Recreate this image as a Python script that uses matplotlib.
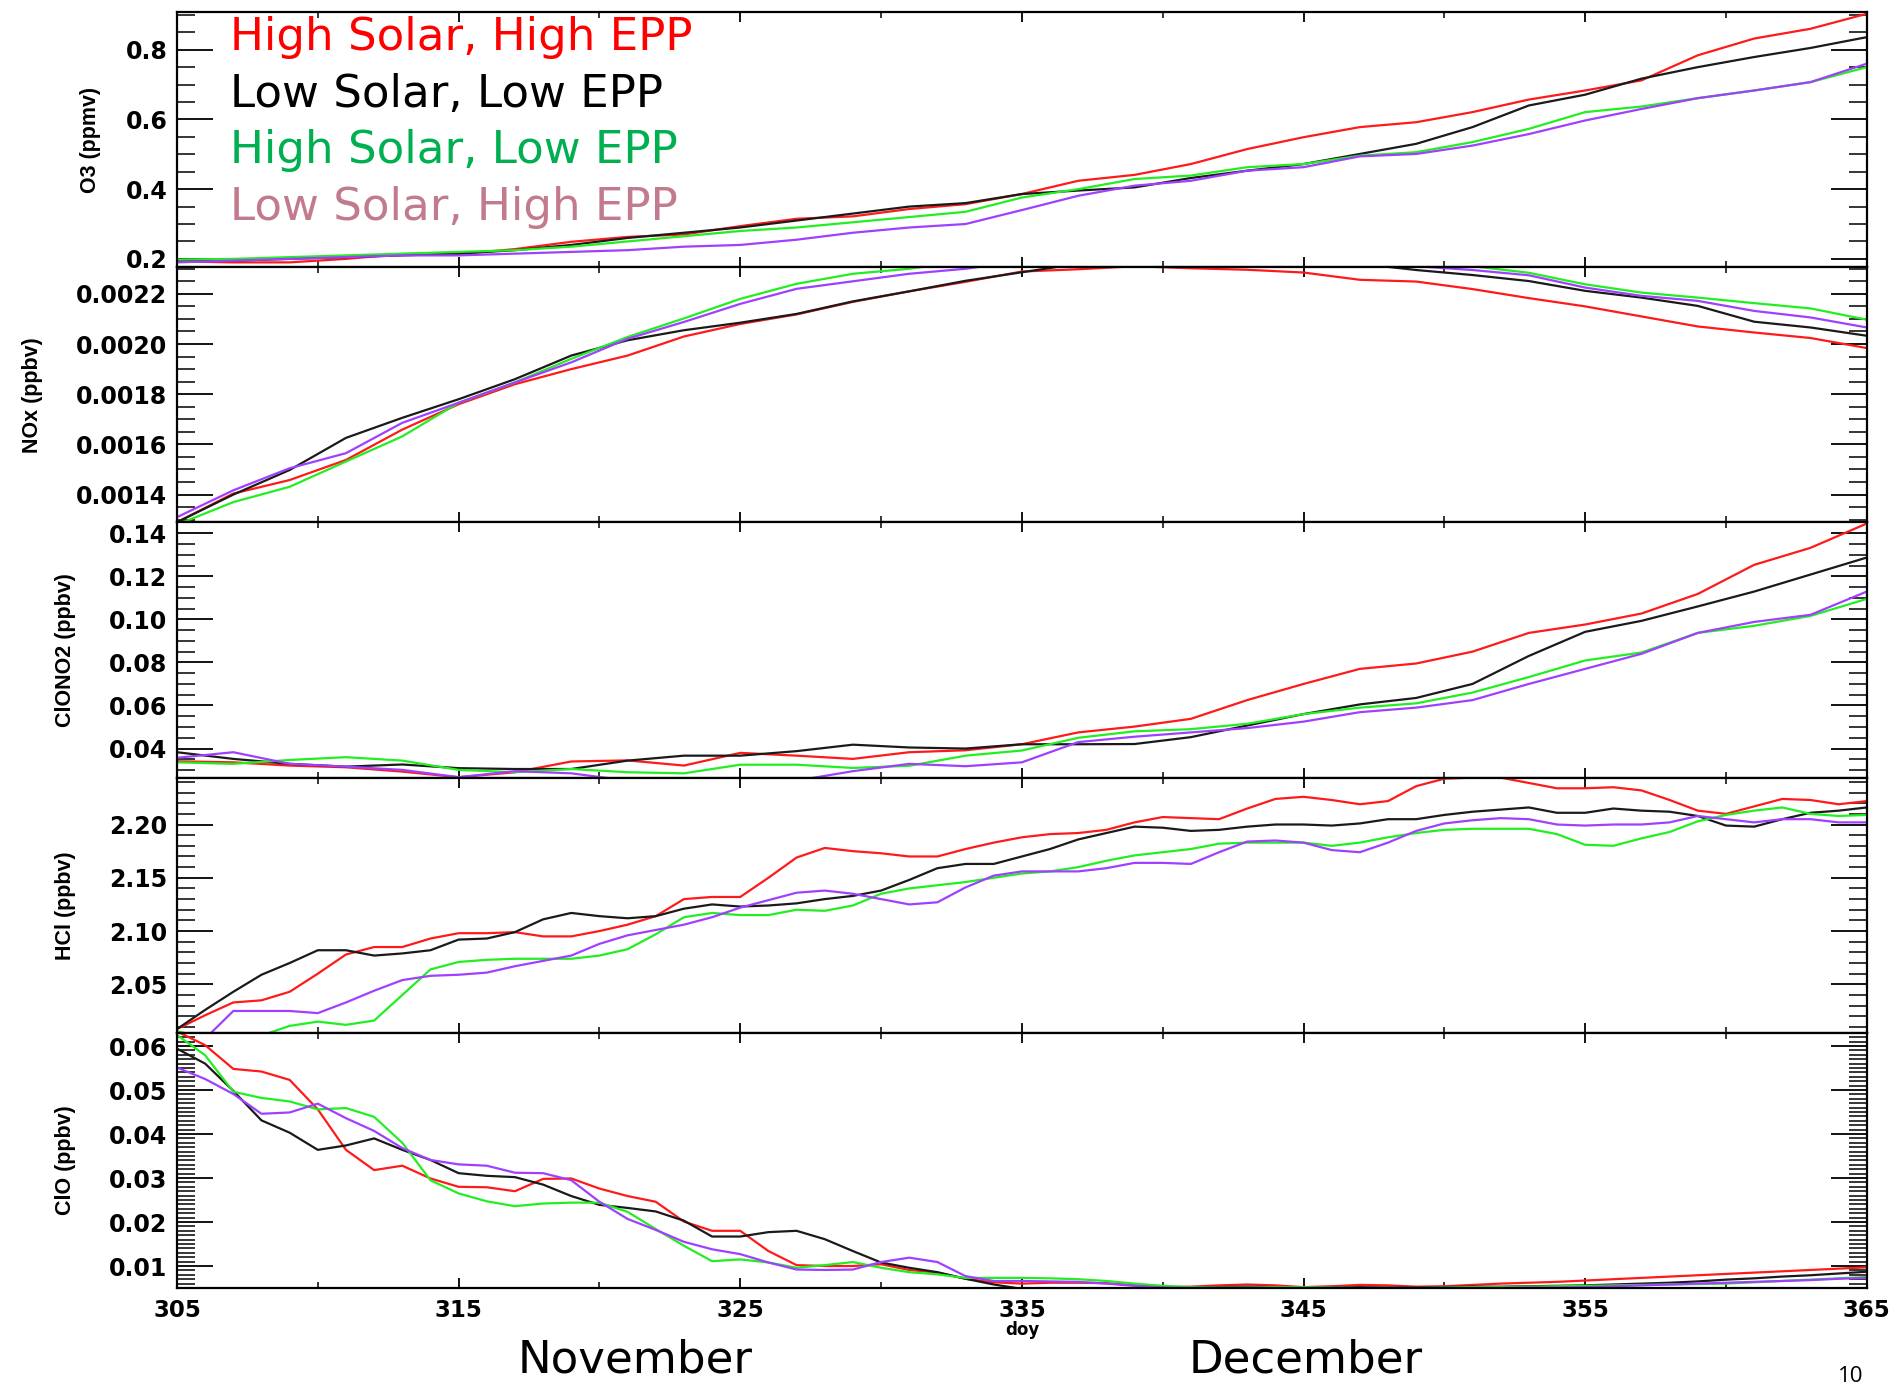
import matplotlib
matplotlib.use("Agg")
import matplotlib.pyplot as plt
import numpy as np
from matplotlib.ticker import MultipleLocator, FixedLocator, FormatStrFormatter

# day grids
days_daily = np.arange(305, 366)
days_2 = np.arange(305, 366, 2)

# O3 (ppmv), every 2 days
o3_hh = [0.193, 0.190, 0.190, 0.200, 0.214, 0.214, 0.228, 0.249, 0.263, 0.270, 0.294, 0.315, 0.322, 0.343, 0.357, 0.386,
         0.424, 0.441, 0.472, 0.515, 0.549, 0.578, 0.592, 0.621, 0.657, 0.683, 0.712, 0.784, 0.832, 0.860, 0.903]
o3_ll = [0.195, 0.195, 0.200, 0.205, 0.210, 0.215, 0.225, 0.240, 0.260, 0.275, 0.290, 0.310, 0.330, 0.350, 0.360, 0.386,
         0.396, 0.405, 0.432, 0.453, 0.472, 0.501, 0.530, 0.578, 0.640, 0.671, 0.717, 0.750, 0.779, 0.805, 0.836]
o3_hl = [0.198, 0.200, 0.205, 0.210, 0.215, 0.220, 0.225, 0.235, 0.250, 0.265, 0.280, 0.290, 0.305, 0.320, 0.335, 0.376,
         0.400, 0.429, 0.439, 0.463, 0.472, 0.496, 0.506, 0.535, 0.573, 0.621, 0.637, 0.661, 0.683, 0.707, 0.750]
o3_lh = [0.190, 0.195, 0.200, 0.205, 0.210, 0.210, 0.215, 0.220, 0.225, 0.235, 0.240, 0.255, 0.275, 0.290, 0.300, 0.340,
         0.381, 0.410, 0.424, 0.453, 0.463, 0.494, 0.501, 0.525, 0.558, 0.597, 0.630, 0.661, 0.683, 0.707, 0.760]

# NOx (ppbv), every 2 days
nox_hh = [0.00129, 0.001404, 0.001458, 0.001538, 0.001659, 0.00176, 0.00184, 0.0019, 0.001954, 0.00203, 0.00208,
          0.002118, 0.002168, 0.00221, 0.002248, 0.002289, 0.002298, 0.00231, 0.002302, 0.002296, 0.002285, 0.002256,
          0.002249, 0.002219, 0.002183, 0.00215, 0.00211, 0.00207, 0.002046, 0.002024, 0.001984]
nox_ll = [0.00129, 0.0014, 0.001498, 0.001626, 0.001706, 0.00178, 0.00186, 0.001954, 0.002015, 0.002055, 0.002085,
          0.00212, 0.00217, 0.00221, 0.002252, 0.002286, 0.00232, 0.00234, 0.00235, 0.00235, 0.00234, 0.00232,
          0.002295, 0.002275, 0.002251, 0.002212, 0.002185, 0.002152, 0.002089, 0.002066, 0.002033]
nox_hl = [0.00128, 0.00137, 0.001431, 0.001532, 0.001632, 0.001766, 0.001847, 0.001941, 0.002028, 0.002102, 0.00218,
          0.00224, 0.00228, 0.0023, 0.00233, 0.00236, 0.00238, 0.00239, 0.00239, 0.00238, 0.00236, 0.00234,
          0.00232, 0.00231, 0.002284, 0.002238, 0.002205, 0.002185, 0.002163, 0.002142, 0.002097]
nox_lh = [0.00131, 0.001417, 0.001505, 0.001565, 0.001686, 0.001766, 0.001847, 0.001927, 0.002021, 0.002088, 0.00216,
          0.00222, 0.00225, 0.00228, 0.0023, 0.00233, 0.00235, 0.00236, 0.00236, 0.00236, 0.00235, 0.00233,
          0.00231, 0.002295, 0.002274, 0.002225, 0.002192, 0.002172, 0.002132, 0.002106, 0.002066]

# ClONO2 (ppbv), every 2 days
clono2_hh = [0.0341, 0.0336, 0.0321, 0.0313, 0.0293, 0.0267, 0.0290, 0.0340, 0.0345, 0.0321, 0.0380, 0.0367, 0.0352,
             0.0383, 0.0392, 0.0420, 0.0475, 0.0502, 0.0538, 0.0625, 0.0700, 0.0770, 0.0795, 0.0850, 0.0937, 0.0976,
             0.1027, 0.1118, 0.1253, 0.1332, 0.1445]
clono2_ll = [0.0383, 0.0352, 0.0329, 0.0316, 0.0326, 0.0309, 0.0305, 0.0305, 0.0344, 0.0367, 0.0367, 0.0388, 0.0418,
             0.0405, 0.0400, 0.0420, 0.0420, 0.0421, 0.0453, 0.0507, 0.0560, 0.0605, 0.0635, 0.0700, 0.0830, 0.0942,
             0.0993, 0.1060, 0.1129, 0.1208, 0.1287]
clono2_hl = [0.0336, 0.0329, 0.0347, 0.0360, 0.0344, 0.0301, 0.0290, 0.0305, 0.0290, 0.0285, 0.0325, 0.0325, 0.0310,
             0.0320, 0.0367, 0.0391, 0.0450, 0.0480, 0.0490, 0.0515, 0.0560, 0.0590, 0.0610, 0.0660, 0.0732, 0.0809,
             0.0846, 0.0937, 0.0970, 0.1016, 0.1095]
clono2_lh = [0.0357, 0.0383, 0.0329, 0.0316, 0.0301, 0.0267, 0.0295, 0.0285, 0.0251, 0.0262, 0.0240, 0.0251, 0.0295,
             0.0329, 0.0318, 0.0336, 0.0430, 0.0455, 0.0475, 0.0495, 0.0525, 0.0569, 0.0590, 0.0625, 0.0700, 0.0770,
             0.0840, 0.0937, 0.0988, 0.1021, 0.1129]

# HCl (ppbv), daily
hcl_hh = [2.008, 2.021, 2.033, 2.035, 2.043, 2.060, 2.078, 2.085, 2.085, 2.093, 2.098, 2.098, 2.099, 2.095, 2.095, 2.100,
          2.106, 2.114, 2.130, 2.132, 2.132, 2.150, 2.169, 2.178, 2.175, 2.173, 2.170, 2.170, 2.177, 2.183, 2.188,
          2.191, 2.192, 2.195, 2.202, 2.207, 2.206, 2.205, 2.215, 2.224, 2.226, 2.223, 2.219, 2.222, 2.236, 2.243,
          2.244, 2.244, 2.239, 2.234, 2.234, 2.235, 2.232, 2.223, 2.213, 2.210, 2.217, 2.224, 2.223, 2.219, 2.222]
hcl_ll = [2.008, 2.026, 2.043, 2.059, 2.070, 2.082, 2.082, 2.077, 2.079, 2.082, 2.092, 2.093, 2.099, 2.111, 2.117, 2.114,
          2.112, 2.114, 2.121, 2.125, 2.123, 2.124, 2.126, 2.130, 2.133, 2.138, 2.148, 2.159, 2.163, 2.163, 2.170,
          2.177, 2.186, 2.192, 2.198, 2.197, 2.194, 2.195, 2.198, 2.200, 2.200, 2.199, 2.201, 2.205, 2.205, 2.209,
          2.212, 2.214, 2.216, 2.211, 2.211, 2.215, 2.213, 2.212, 2.208, 2.199, 2.198, 2.205, 2.211, 2.213, 2.216]
hcl_hl = [2.006, 2.000, 1.998, 2.002, 2.011, 2.015, 2.012, 2.016, 2.040, 2.064, 2.071, 2.073, 2.074, 2.074, 2.074, 2.077,
          2.083, 2.097, 2.113, 2.117, 2.115, 2.115, 2.120, 2.119, 2.124, 2.135, 2.140, 2.143, 2.146, 2.150, 2.154,
          2.156, 2.160, 2.166, 2.171, 2.174, 2.177, 2.182, 2.183, 2.183, 2.183, 2.180, 2.183, 2.188, 2.192, 2.195,
          2.196, 2.196, 2.196, 2.191, 2.181, 2.180, 2.187, 2.193, 2.203, 2.209, 2.213, 2.216, 2.210, 2.208, 2.209]
hcl_lh = [1.996, 1.999, 2.025, 2.025, 2.025, 2.023, 2.033, 2.044, 2.054, 2.058, 2.059, 2.061, 2.067, 2.072, 2.077, 2.088,
          2.096, 2.101, 2.106, 2.113, 2.122, 2.129, 2.136, 2.138, 2.135, 2.130, 2.125, 2.127, 2.141, 2.152, 2.156,
          2.156, 2.156, 2.159, 2.164, 2.164, 2.163, 2.174, 2.184, 2.185, 2.183, 2.176, 2.174, 2.183, 2.194, 2.201,
          2.204, 2.206, 2.205, 2.200, 2.199, 2.200, 2.200, 2.202, 2.208, 2.205, 2.202, 2.205, 2.205, 2.202, 2.202]

# ClO (ppbv), daily
clo_hh = [0.0633, 0.0602, 0.0548, 0.0542, 0.0523, 0.0456, 0.0364, 0.0318, 0.0328, 0.0299, 0.0280, 0.0279, 0.0270,
          0.0298, 0.0299, 0.0276, 0.0259, 0.0246, 0.0201, 0.0180, 0.0180, 0.0134, 0.0102, 0.0100, 0.0100, 0.0104,
          0.0091, 0.0085, 0.0071, 0.0063, 0.0060, 0.0062, 0.0062, 0.0061, 0.0056, 0.0052, 0.0053, 0.0056, 0.0058,
          0.0056, 0.0052, 0.0054, 0.0057, 0.0056, 0.0053, 0.0054, 0.0057, 0.0060, 0.0062, 0.0064, 0.0067, 0.0070,
          0.0073, 0.0076, 0.0079, 0.0082, 0.0085, 0.0088, 0.0091, 0.0094, 0.0097]
clo_ll = [0.0594, 0.0560, 0.0498, 0.0431, 0.0403, 0.0364, 0.0374, 0.0390, 0.0364, 0.0341, 0.0311, 0.0305, 0.0302,
          0.0285, 0.0259, 0.0239, 0.0232, 0.0224, 0.0203, 0.0167, 0.0167, 0.0177, 0.0180, 0.0161, 0.0134, 0.0108,
          0.0096, 0.0086, 0.0071, 0.0058, 0.0048, 0.0048, 0.0048, 0.0049, 0.0050, 0.0051, 0.0052, 0.0052, 0.0053,
          0.0052, 0.0051, 0.0051, 0.0052, 0.0051, 0.0051, 0.0052, 0.0053, 0.0053, 0.0054, 0.0055, 0.0056, 0.0058,
          0.0060, 0.0062, 0.0065, 0.0069, 0.0072, 0.0076, 0.0079, 0.0083, 0.0087]
clo_hl = [0.0625, 0.0579, 0.0496, 0.0482, 0.0474, 0.0456, 0.0459, 0.0439, 0.0380, 0.0295, 0.0265, 0.0247, 0.0236,
          0.0242, 0.0244, 0.0244, 0.0223, 0.0184, 0.0146, 0.0111, 0.0115, 0.0108, 0.0096, 0.0102, 0.0109, 0.0096,
          0.0086, 0.0081, 0.0073, 0.0073, 0.0073, 0.0072, 0.0070, 0.0066, 0.0060, 0.0055, 0.0052, 0.0051, 0.0051,
          0.0052, 0.0052, 0.0051, 0.0050, 0.0050, 0.0050, 0.0051, 0.0052, 0.0052, 0.0053, 0.0054, 0.0055, 0.0056,
          0.0057, 0.0058, 0.0059, 0.0060, 0.0063, 0.0066, 0.0069, 0.0072, 0.0075]
clo_lh = [0.0551, 0.0525, 0.0491, 0.0446, 0.0449, 0.0469, 0.0436, 0.0407, 0.0368, 0.0341, 0.0331, 0.0328, 0.0312,
          0.0311, 0.0295, 0.0246, 0.0207, 0.0182, 0.0155, 0.0138, 0.0127, 0.0108, 0.0092, 0.0091, 0.0092, 0.0109,
          0.0119, 0.0109, 0.0077, 0.0066, 0.0066, 0.0065, 0.0064, 0.0060, 0.0055, 0.0051, 0.0050, 0.0050, 0.0050,
          0.0050, 0.0050, 0.0050, 0.0050, 0.0050, 0.0050, 0.0050, 0.0050, 0.0050, 0.0051, 0.0051, 0.0052, 0.0054,
          0.0056, 0.0058, 0.0060, 0.0062, 0.0064, 0.0066, 0.0068, 0.0071, 0.0073]

scenario_labels = ["High Solar, High EPP", "Low Solar, Low EPP", "High Solar, Low EPP", "Low Solar, High EPP"]
label_colors = ["#ff0000", "#000000", "#00b050", "#c27b8c"]
line_colors = ["#ff1a1a", "#1a1a1a", "#22ee22", "#a040ff"]

# ylabel, days, series, ylim, major step, minor step, format, ylabel x (axes fraction)
panels = [
    ("O3 (ppmv)", days_2, [o3_hh, o3_ll, o3_hl, o3_lh], (0.176, 0.908), 0.2, 0.05, "%.1f", -0.045),
    ("NOx (ppbv)", days_2, [nox_hh, nox_ll, nox_hl, nox_lh], (0.001289, 0.002306), 0.0002, 0.00005, "%.4f", -0.079),
    ("ClONO2 (ppbv)", days_2, [clono2_hh, clono2_ll, clono2_hl, clono2_lh], (0.0265, 0.145), 0.02, 0.005, "%.2f", -0.06),
    ("HCl (ppbv)", days_daily, [hcl_hh, hcl_ll, hcl_hl, hcl_lh], (2.0045, 2.244), 0.05, 0.01, "%.2f", -0.06),
    ("ClO (ppbv)", days_daily, [clo_hh, clo_ll, clo_hl, clo_lh], (0.005, 0.063), 0.01, 0.001, "%.2f", -0.06),
]

plt.rcParams['font.family'] = ['Liberation Sans', 'DejaVu Sans']

fig, axes = plt.subplots(5, 1, figsize=(19.01, 13.86), dpi=100, sharex=True)
fig.subplots_adjust(left=0.0931, right=0.982, top=0.9913, bottom=0.0707, hspace=0)

for ax, (ylabel, days, series, ylim, major, minor, fmt, lx) in zip(axes, panels):
    for vals, c in zip(series, line_colors):
        ax.plot(days, vals, color=c, lw=1.6)
    ax.set_xlim(305, 365)
    ax.set_ylim(*ylim)
    ax.yaxis.set_major_locator(MultipleLocator(major))
    ax.yaxis.set_minor_locator(MultipleLocator(minor))
    ax.yaxis.set_major_formatter(FormatStrFormatter(fmt))
    ax.xaxis.set_major_locator(FixedLocator(list(range(305, 366, 10))))
    ax.xaxis.set_minor_locator(FixedLocator(list(range(310, 366, 10))))
    ax.tick_params(axis='y', which='major', direction='in', left=True, right=True, length=26, width=1.3,
                   labelsize=17, pad=7)
    ax.tick_params(axis='y', which='minor', direction='in', left=True, right=True, length=13, width=1.1)
    ax.tick_params(axis='x', which='major', direction='in', top=True, bottom=True, length=7, width=1.3,
                   labelsize=16.5, pad=8)
    ax.tick_params(axis='x', which='minor', direction='in', top=True, bottom=True, length=4, width=1.1)
    for lab in ax.get_yticklabels() + ax.get_xticklabels():
        lab.set_fontweight('bold')
        lab.set_family('DejaVu Sans')
    for s in ax.spines.values():
        s.set_linewidth(1.6)
    ax.set_ylabel(ylabel, fontsize=15.5, fontweight='bold')
    ax.yaxis.set_label_coords(lx, 0.5)

axes[-1].set_xlabel("doy", fontsize=12, fontweight='bold', family='DejaVu Sans', labelpad=-1)

# scenario legend as coloured text
for i, (lab, c) in enumerate(zip(scenario_labels, label_colors)):
    fig.text(0.121, 0.9639 - i * 0.0409, lab, color=c, fontsize=32.5, family='DejaVu Sans', va='baseline')

fig.text(0.334, 0.010, "November", fontsize=32.5, family='DejaVu Sans', ha='center', va='baseline')
fig.text(0.687, 0.010, "December", fontsize=32.5, family='DejaVu Sans', ha='center', va='baseline')
fig.text(0.9735, 0.003, "10", fontsize=16, family='Open Sans', ha='center', va='baseline')

fig.savefig("out.png", dpi=100)
